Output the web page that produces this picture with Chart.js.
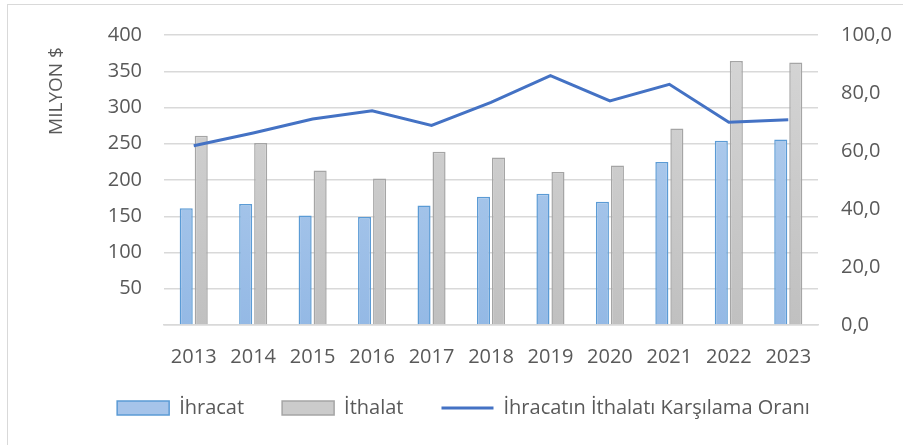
<!DOCTYPE html>
<html>
<head>
<meta charset="utf-8">
<script src="https://cdn.jsdelivr.net/npm/chart.js@4.4.0/dist/chart.umd.min.js"></script>
<style>
  html, body { margin: 0; padding: 0; background: #fff; }
  #wrap { position: relative; width: 903px; height: 445px; }
  #frame {
    position: absolute; left: 7px; top: 4px; right: 0; bottom: 0;
    border-top: 1px solid #d9d9d9; border-left: 1px solid #d9d9d9;
  }
  #chart { position: absolute; left: 0; top: 0; }
</style>
</head>
<body>
<div id="wrap">
  <div id="frame"></div>
  <canvas id="chart" width="903" height="445"></canvas>
</div>
<script>
"use strict";

// ---------- data ----------
const years = ["2013", "2014", "2015", "2016", "2017", "2018", "2019", "2020", "2021", "2022", "2023"];
const ihracat = [161, 167, 151, 149, 165, 177, 181, 170, 225, 254, 256];
const ithalat = [261, 251, 213, 202, 239, 231, 211, 220, 271, 364, 362];
const oran = [61.8, 66.2, 71.0, 73.9, 68.8, 76.8, 86.0, 77.3, 83.0, 69.9, 70.8];
const leftTicks = [50, 100, 150, 200, 250, 300, 350, 400];
const rightTicks = ["0,0", "20,0", "40,0", "60,0", "80,0", "100,0"];

const textColor = "#595959";
const gridColor = "#d9d9d9";
const fontFamily = "'Open Sans', 'Noto Sans', sans-serif";

// dikey gradient (üst açık, alt koyu)
function barGradient(top, bottom, fallback) {
  return function (ctx) {
    const area = ctx.chart.chartArea;
    if (!area) return fallback;
    const g = ctx.chart.ctx.createLinearGradient(0, area.top, 0, area.bottom);
    g.addColorStop(0, top);
    g.addColorStop(1, bottom);
    return g;
  };
}

// y ekseni başlığı (üstte hizalı, Excel gibi)
const yTitlePlugin = {
  id: "yTitle",
  afterDraw(chart) {
    const c = chart.ctx;
    c.save();
    c.translate(57, 91);
    c.rotate(-Math.PI / 2);
    c.font = "19px " + fontFamily;
    c.fillStyle = textColor;
    c.textAlign = "center";
    c.textBaseline = "middle";
    c.fillText("MILYON $", 0, 0);
    c.restore();
  },
};

new Chart(document.getElementById("chart"), {
  type: "bar",
  data: {
    labels: years,
    datasets: [
      {
        label: "İhracat",
        data: ihracat,
        backgroundColor: barGradient("#b7d1ef", "#94b9e5", "#a6c4ea"),
        borderColor: "#5b9bd5",
        borderWidth: 1.5,
        categoryPercentage: 0.505,
        barPercentage: 0.87,
        order: 1,
        yAxisID: "y",
      },
      {
        label: "İthalat",
        data: ithalat,
        backgroundColor: barGradient("#d6d6d6", "#c0c0c0", "#cbcbcb"),
        borderColor: "#a5a5a5",
        borderWidth: 1.5,
        categoryPercentage: 0.505,
        barPercentage: 0.87,
        order: 1,
        yAxisID: "y",
      },
      {
        type: "line",
        label: "İhracatın İthalatı Karşılama Oranı",
        data: oran,
        borderColor: "#4472c4",
        backgroundColor: "#4472c4",
        borderWidth: 3,
        pointRadius: 0,
        tension: 0,
        order: 0,
        yAxisID: "y1",
      },
    ],
  },
  options: {
    responsive: false,
    animation: false,
    layout: { padding: { left: 24, right: 0, top: 33, bottom: 17 } },
    plugins: {
      tooltip: { enabled: false },
      legend: {
        position: "bottom",
        labels: {
          usePointStyle: true,
          pointStyleWidth: 52,
          boxHeight: 14,
          padding: 38,
          color: textColor,
          font: { family: fontFamily, size: 20 },
          generateLabels(chart) {
            const items = Chart.defaults.plugins.legend.labels.generateLabels(chart);
            items.forEach((it) => {
              if (it.datasetIndex === 0) { it.pointStyle = "rect"; it.fillStyle = "#a6c4ea"; it.strokeStyle = "#5b9bd5"; it.lineWidth = 1.5; }
              if (it.datasetIndex === 1) { it.pointStyle = "rect"; it.fillStyle = "#cbcbcb"; it.strokeStyle = "#a5a5a5"; it.lineWidth = 1.5; }
              if (it.datasetIndex === 2) { it.pointStyle = "line"; it.strokeStyle = "#4472c4"; it.lineWidth = 3; }
            });
            return items.sort((a, b) => a.datasetIndex - b.datasetIndex);
          },
        },
      },
    },
    scales: {
      x: {
        afterFit(scale) {
          scale.height = 35;
          // etiketler kutunun dışına taşabilsin (kırpma yok)
          scale._computeLabelArea = () => undefined;
        },
        grid: { display: false, drawTicks: false },
        border: { display: true, color: gridColor, width: 1.5 },
        ticks: { color: textColor, font: { family: fontFamily, size: 20 }, padding: 20, maxRotation: 0 },
      },
      y: {
        position: "left",
        min: 0,
        max: 400,
        afterFit(scale) { scale.width = 140; },
        afterBuildTicks(scale) {
          scale.ticks = [0].concat(leftTicks).map((v) => ({ value: v }));
        },
        grid: { color: gridColor, lineWidth: 1.5, drawTicks: false },
        border: { display: false },
        ticks: {
          color: textColor,
          font: { family: fontFamily, size: 20 },
          padding: 22,
          callback: (v) => (leftTicks.includes(v) ? String(v) : ""),
        },
      },
      y1: {
        position: "right",
        min: 0,
        max: 100,
        afterFit(scale) { scale.width = 85; },
        afterBuildTicks(scale) {
          scale.ticks = rightTicks.map((t, i) => ({ value: i * 20 }));
        },
        grid: { display: false, drawTicks: false },
        border: { display: false },
        ticks: {
          color: textColor,
          font: { family: fontFamily, size: 20 },
          padding: 23,
          callback: (v, i) => rightTicks[i],
        },
      },
    },
  },
  plugins: [yTitlePlugin],
});
</script>
</body>
</html>
